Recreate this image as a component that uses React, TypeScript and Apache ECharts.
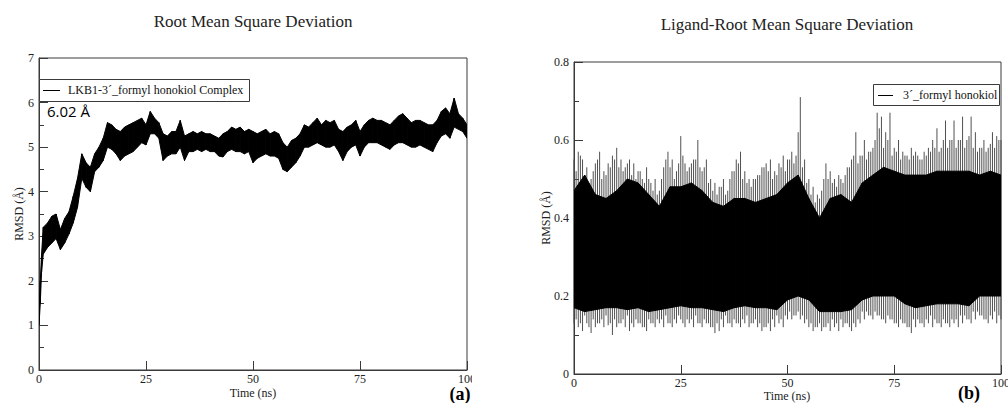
import React, { useEffect, useRef } from "react";
import * as echarts from "echarts";

// ---------- Data ----------
// Panel (a): protein RMSD band (upper / lower edge of the noisy trace), Å
const leftTime = [0, 0.3, 0.6,
  1, 2, 3, 4, 5, 6, 7, 8, 9, 10,
  11, 12, 13, 14, 15, 16, 17, 18, 19, 20,
  21, 22, 23, 24, 25, 26, 27, 28, 29, 30,
  31, 32, 33, 34, 35, 36, 37, 38, 39, 40,
  41, 42, 43, 44, 45, 46, 47, 48, 49, 50,
  51, 52, 53, 54, 55, 56, 57, 58, 59, 60,
  61, 62, 63, 64, 65, 66, 67, 68, 69, 70,
  71, 72, 73, 74, 75, 76, 77, 78, 79, 80,
  81, 82, 83, 84, 85, 86, 87, 88, 89, 90,
  91, 92, 93, 94, 95, 96, 97, 98, 99, 100];
const leftHigh = [1.25, 2.0, 2.6,
  3.2, 3.3, 3.45, 3.5, 3.15, 3.4, 3.55, 3.9, 4.3, 4.85,
  4.65, 4.55, 4.85, 5.0, 5.2, 5.55, 5.5, 5.4, 5.35, 5.45,
  5.5, 5.55, 5.6, 5.65, 5.5, 5.8, 5.65, 5.55, 5.3, 5.25,
  5.35, 5.35, 5.6, 5.25, 5.3, 5.35, 5.3, 5.35, 5.3, 5.3,
  5.25, 5.2, 5.3, 5.35, 5.45, 5.4, 5.45, 5.35, 5.4, 5.35,
  5.3, 5.35, 5.4, 5.3, 5.35, 5.3, 5.1, 5.0, 5.15, 5.2,
  5.3, 5.5, 5.45, 5.55, 5.65, 5.5, 5.6, 5.55, 5.6, 5.4,
  5.35, 5.45, 5.5, 5.6, 5.35, 5.5, 5.6, 5.65, 5.6, 5.6,
  5.55, 5.5, 5.6, 5.7, 5.75, 5.65, 5.55, 5.6, 5.6, 5.55,
  5.5, 5.5, 5.6, 5.8, 5.88, 5.75, 6.1, 5.75, 5.65, 5.5];
const leftLow = [1.0, 1.5, 2.2,
  2.6, 2.75, 2.85, 2.95, 2.7, 2.85, 3.05, 3.3, 3.65, 4.3,
  4.1, 4.0, 4.45, 4.55, 4.7, 5.0, 4.95, 4.85, 4.7, 4.8,
  4.85, 4.9, 5.0, 5.1, 5.05, 5.3, 5.3, 5.2, 4.7, 4.8,
  4.85, 4.85, 5.0, 4.7, 4.9, 4.9, 4.95, 4.9, 4.95, 4.9,
  4.9, 4.8, 4.78, 4.9, 4.95, 4.9, 4.9, 4.85, 4.9, 4.65,
  4.75, 4.8, 4.85, 4.8, 4.8, 4.75, 4.5, 4.45, 4.55, 4.65,
  4.8, 5.0, 5.0, 5.05, 5.1, 5.05, 5.0, 5.0, 5.05, 4.9,
  4.7, 4.9, 5.0, 5.05, 4.8, 5.0, 5.1, 5.1, 5.1, 5.05,
  5.0, 4.95, 5.05, 5.1, 5.1, 5.05, 5.0, 5.0, 5.05, 5.0,
  4.95, 4.9, 5.1, 5.25, 5.3, 5.2, 5.45, 5.4, 5.35, 5.2];

// Panel (b): ligand RMSD, dense core band (every 2.5 ns), Å
const coreTime = [0, 2.5, 5, 7.5, 10, 12.5, 15, 17.5, 20, 22.5,
  25, 27.5, 30, 32.5, 35, 37.5, 40, 42.5, 45, 47.5,
  50, 52.5, 55, 57.5, 60, 62.5, 65, 67.5, 70, 72.5,
  75, 77.5, 80, 82.5, 85, 87.5, 90, 92.5, 95, 97.5, 100];
const coreHigh = [0.47, 0.51, 0.46, 0.45, 0.47, 0.5, 0.49, 0.46, 0.43, 0.48,
  0.48, 0.49, 0.47, 0.44, 0.43, 0.45, 0.45, 0.44, 0.45, 0.46,
  0.49, 0.51, 0.45, 0.4, 0.45, 0.46, 0.44, 0.49, 0.51, 0.53,
  0.52, 0.51, 0.51, 0.51, 0.52, 0.52, 0.52, 0.52, 0.51, 0.52, 0.51];
const coreLow = [0.17, 0.16, 0.165, 0.17, 0.17, 0.165, 0.17, 0.16, 0.165, 0.17,
  0.175, 0.17, 0.17, 0.165, 0.16, 0.17, 0.175, 0.17, 0.17, 0.165,
  0.19, 0.2, 0.19, 0.16, 0.16, 0.16, 0.165, 0.19, 0.2, 0.2,
  0.2, 0.18, 0.17, 0.175, 0.18, 0.18, 0.18, 0.175, 0.2, 0.2, 0.2];

// Panel (b): spike extremes at whole ns
const spikeTime = [0, 1, 2, 3, 4, 5, 6, 7, 8, 9, 10,
  11, 12, 13, 14, 15, 16, 17, 18, 19, 20,
  21, 22, 23, 24, 25, 26, 27, 28, 29, 30,
  31, 32, 33, 34, 35, 36, 37, 38, 39, 40,
  41, 42, 43, 44, 45, 46, 47, 48, 49, 50,
  51, 52, 53, 54, 55, 56, 57, 58, 59, 60,
  61, 62, 63, 64, 65, 66, 67, 68, 69, 70,
  71, 72, 73, 74, 75, 76, 77, 78, 79, 80,
  81, 82, 83, 84, 85, 86, 87, 88, 89, 90,
  91, 92, 93, 94, 95, 96, 97, 98, 99, 100];
const spikeMax = [0.55, 0.57, 0.55, 0.53, 0.5, 0.54, 0.57, 0.52, 0.54, 0.56, 0.58,
  0.55, 0.53, 0.55, 0.54, 0.52, 0.5, 0.53, 0.49, 0.5, 0.47,
  0.53, 0.57, 0.55, 0.52, 0.61, 0.54, 0.53, 0.55, 0.6, 0.52,
  0.55, 0.5, 0.49, 0.48, 0.5, 0.47, 0.52, 0.55, 0.57, 0.52,
  0.5, 0.5, 0.51, 0.53, 0.54, 0.55, 0.52, 0.54, 0.56, 0.55,
  0.57, 0.56, 0.71, 0.55, 0.5, 0.48, 0.46, 0.47, 0.54, 0.52,
  0.5, 0.51, 0.49, 0.53, 0.55, 0.62, 0.56, 0.6, 0.57, 0.58,
  0.67, 0.66, 0.62, 0.67, 0.58, 0.6, 0.57, 0.56, 0.58, 0.57,
  0.55, 0.57, 0.58, 0.6, 0.63, 0.58, 0.65, 0.6, 0.65, 0.6,
  0.66, 0.6, 0.66, 0.62, 0.58, 0.6, 0.58, 0.62, 0.61, 0.6];
const spikeMin = [0.13, 0.12, 0.11, 0.13, 0.105, 0.12, 0.13, 0.12, 0.125, 0.1, 0.12,
  0.13, 0.12, 0.11, 0.12, 0.13, 0.12, 0.11, 0.13, 0.12, 0.13,
  0.12, 0.13, 0.12, 0.13, 0.14, 0.12, 0.13, 0.12, 0.13, 0.12,
  0.13, 0.12, 0.105, 0.11, 0.12, 0.13, 0.12, 0.13, 0.12, 0.13,
  0.12, 0.13, 0.12, 0.11, 0.12, 0.11, 0.12, 0.13, 0.12, 0.14,
  0.14, 0.15, 0.14, 0.13, 0.12, 0.11, 0.12, 0.11, 0.12, 0.11,
  0.12, 0.11, 0.12, 0.13, 0.11, 0.12, 0.13, 0.14, 0.15, 0.14,
  0.15, 0.14, 0.13, 0.14, 0.13, 0.12, 0.13, 0.12, 0.105, 0.12,
  0.13, 0.12, 0.13, 0.12, 0.13, 0.12, 0.13, 0.12, 0.13, 0.12,
  0.13, 0.14, 0.13, 0.14, 0.15, 0.14, 0.13, 0.14, 0.13, 0.14];

// Panel (b): spike extremes at half ns
const spikeTimeHalf = [0.5, 1.5, 2.5, 3.5, 4.5, 5.5, 6.5, 7.5, 8.5, 9.5,
  10.5, 11.5, 12.5, 13.5, 14.5, 15.5, 16.5, 17.5, 18.5, 19.5,
  20.5, 21.5, 22.5, 23.5, 24.5, 25.5, 26.5, 27.5, 28.5, 29.5,
  30.5, 31.5, 32.5, 33.5, 34.5, 35.5, 36.5, 37.5, 38.5, 39.5,
  40.5, 41.5, 42.5, 43.5, 44.5, 45.5, 46.5, 47.5, 48.5, 49.5,
  50.5, 51.5, 52.5, 53.5, 54.5, 55.5, 56.5, 57.5, 58.5, 59.5,
  60.5, 61.5, 62.5, 63.5, 64.5, 65.5, 66.5, 67.5, 68.5, 69.5,
  70.5, 71.5, 72.5, 73.5, 74.5, 75.5, 76.5, 77.5, 78.5, 79.5,
  80.5, 81.5, 82.5, 83.5, 84.5, 85.5, 86.5, 87.5, 88.5, 89.5,
  90.5, 91.5, 92.5, 93.5, 94.5, 95.5, 96.5, 97.5, 98.5, 99.5];
const spikeMaxHalf = [0.52, 0.56, 0.5, 0.48, 0.52, 0.55, 0.5, 0.51, 0.53, 0.55,
  0.53, 0.52, 0.54, 0.51, 0.5, 0.52, 0.49, 0.5, 0.47, 0.46,
  0.5, 0.55, 0.53, 0.5, 0.54, 0.56, 0.52, 0.54, 0.55, 0.53,
  0.53, 0.49, 0.47, 0.46, 0.48, 0.46, 0.5, 0.52, 0.54, 0.5,
  0.49, 0.48, 0.5, 0.51, 0.53, 0.52, 0.5, 0.51, 0.53, 0.52,
  0.55, 0.54, 0.62, 0.53, 0.49, 0.46, 0.44, 0.45, 0.5, 0.5,
  0.49, 0.48, 0.5, 0.51, 0.53, 0.56, 0.54, 0.56, 0.55, 0.57,
  0.6, 0.63, 0.58, 0.6, 0.56, 0.57, 0.55, 0.56, 0.55, 0.56,
  0.56, 0.55, 0.56, 0.57, 0.58, 0.57, 0.6, 0.58, 0.6, 0.58,
  0.6, 0.58, 0.61, 0.58, 0.57, 0.58, 0.57, 0.59, 0.58, 0.6];
const spikeMinHalf = [0.14, 0.13, 0.15, 0.12, 0.14, 0.13, 0.14, 0.15, 0.13, 0.14,
  0.13, 0.14, 0.15, 0.13, 0.14, 0.13, 0.12, 0.14, 0.13, 0.14,
  0.14, 0.15, 0.13, 0.14, 0.15, 0.13, 0.14, 0.14, 0.15, 0.13,
  0.14, 0.13, 0.12, 0.13, 0.14, 0.15, 0.13, 0.14, 0.13, 0.14,
  0.15, 0.13, 0.14, 0.13, 0.12, 0.13, 0.14, 0.15, 0.14, 0.15,
  0.16, 0.15, 0.16, 0.15, 0.14, 0.13, 0.12, 0.13, 0.12, 0.13,
  0.14, 0.13, 0.14, 0.13, 0.12, 0.13, 0.14, 0.16, 0.16, 0.15,
  0.16, 0.15, 0.14, 0.15, 0.14, 0.13, 0.14, 0.13, 0.12, 0.14,
  0.14, 0.13, 0.14, 0.15, 0.14, 0.13, 0.14, 0.13, 0.14, 0.14,
  0.15, 0.15, 0.14, 0.16, 0.16, 0.15, 0.14, 0.15, 0.16, 0.15];

const xTicks = [0, 25, 50, 75, 100];

// ---------- Styling helpers ----------
const SERIF = "'Liberation Serif', 'Times New Roman', serif";
const AXIS = "#3a3a3a";

function axisX() {
  return {
    type: "value" as const,
    min: xTicks[0],
    max: xTicks[xTicks.length - 1],
    interval: xTicks[1] - xTicks[0],
    axisLine: { show: true, lineStyle: { color: AXIS, width: 1 } },
    axisTick: { show: true, inside: true, length: 9, lineStyle: { color: AXIS } },
    minorTick: { show: false },
    splitLine: { show: false },
    axisLabel: { color: "#222", fontFamily: SERIF, fontSize: 12, margin: 3, showMinLabel: true, showMaxLabel: true },
  };
}

function axisY(min: number, max: number, interval: number) {
  return {
    type: "value" as const,
    min,
    max,
    interval,
    axisLine: { show: true, lineStyle: { color: AXIS, width: 1 } },
    axisTick: { show: true, inside: true, length: 9, lineStyle: { color: AXIS } },
    minorTick: { show: true, splitNumber: 2, length: 5, lineStyle: { color: AXIS } },
    splitLine: { show: false },
    axisLabel: { color: "#222", fontFamily: SERIF, fontSize: 12, margin: 5 },
  };
}

function txt(x: number, y: number, text: string, opts: any = {}) {
  return {
    type: "text",
    x,
    y,
    z: 100,
    rotation: opts.rotation || 0,
    style: {
      text,
      fill: opts.fill || "#222",
      fontFamily: opts.fontFamily || SERIF,
      fontSize: opts.fontSize || 12,
      fontWeight: opts.fontWeight || "normal",
      align: opts.align || "center",
      verticalAlign: "middle",
    },
  };
}

// Band between a low and a high edge, drawn as one quad per interval
function bandSeries(name: string, times: number[], lo: number[], hi: number[], z: number) {
  const data = times.slice(0, -1).map((t, i) => [t, lo[i], hi[i], times[i + 1], lo[i + 1], hi[i + 1]]);
  return {
    type: "custom",
    name,
    z,
    silent: true,
    clip: true,
    encode: { x: [0, 3], y: [1, 2, 4, 5] },
    data,
    renderItem: (_p: any, api: any) => {
      const p1 = api.coord([api.value(0), api.value(1)]);
      const p2 = api.coord([api.value(3), api.value(4)]);
      const p3 = api.coord([api.value(3), api.value(5)]);
      const p4 = api.coord([api.value(0), api.value(2)]);
      return {
        type: "polygon",
        shape: { points: [p1, p2, p3, p4] },
        style: { fill: "#000", stroke: "#000", lineWidth: 1 },
      };
    },
  };
}

function spikeSeries(times: number[], values: number[], name: string) {
  return {
    type: "custom",
    name,
    z: 1,
    silent: true,
    data: times.map((t, i) => [t, values[i]]),
    renderItem: (_p: any, api: any) => {
      const t = api.value(0);
      const v = api.value(1);
      const a = api.coord([t, 0.3]);
      const b = api.coord([t, v]);
      return {
        type: "line",
        shape: { x1: a[0], y1: a[1], x2: b[0], y2: b[1] },
        style: { stroke: "#505050", lineWidth: 1 },
      };
    },
  };
}

const leftOption = {
  animation: false,
  grid: { left: 39, top: 58, width: 428, height: 312, show: true, borderColor: AXIS, borderWidth: 1, backgroundColor: "transparent" },
  xAxis: axisX(),
  yAxis: axisY(0, 7, 1),
  series: [bandSeries("LKB1-3´_formyl honokiol Complex", leftTime, leftLow, leftHigh, 2)],
  graphic: [
    txt(253, 21, "Root Mean Square Deviation", { fontSize: 17 }),
    txt(19, 214, "RMSD (Å)", { rotation: Math.PI / 2 }),
    txt(253, 393, "Time (ns)"),
    txt(460, 394, "(a)", { fontSize: 18, fontWeight: "bold", fill: "#000" }),
    txt(47, 111, "6.02 Å", { align: "left", fontFamily: "'Open Sans', 'Noto Sans', sans-serif", fontSize: 15, fill: "#000" }),
    {
      type: "rect",
      z: 99,
      shape: { x: 39.5, y: 79.5, width: 210, height: 22 },
      style: { fill: "#fff", stroke: AXIS, lineWidth: 1 },
    },
    {
      type: "line",
      z: 100,
      shape: { x1: 43, y1: 90.5, x2: 60, y2: 90.5 },
      style: { stroke: "#000", lineWidth: 1 },
    },
    txt(68, 90, "LKB1-3´_formyl honokiol Complex", { align: "left", fill: "#111" }),
  ],
};

const rightOption = {
  animation: false,
  grid: { left: 94, top: 62, width: 427, height: 312, show: true, borderColor: AXIS, borderWidth: 1, backgroundColor: "transparent" },
  xAxis: axisX(),
  yAxis: axisY(0, 0.8, 0.2),
  series: [
    spikeSeries(spikeTime, spikeMax, "max"),
    spikeSeries(spikeTime, spikeMin, "min"),
    spikeSeries(spikeTimeHalf, spikeMaxHalf, "maxHalf"),
    spikeSeries(spikeTimeHalf, spikeMinHalf, "minHalf"),
    bandSeries("3´_formyl honokiol", coreTime, coreLow, coreHigh, 3),
  ],
  graphic: [
    txt(307, 24, "Ligand-Root Mean Square Deviation", { fontSize: 17 }),
    txt(66, 218, "RMSD (Å)", { rotation: Math.PI / 2 }),
    txt(307, 396, "Time (ns)"),
    txt(489, 393, "(b)", { fontSize: 18, fontWeight: "bold", fill: "#000" }),
    {
      type: "rect",
      z: 99,
      shape: { x: 393.5, y: 84.5, width: 126, height: 21 },
      style: { fill: "#fff", stroke: AXIS, lineWidth: 1 },
    },
    {
      type: "line",
      z: 100,
      shape: { x1: 398, y1: 95.5, x2: 413, y2: 95.5 },
      style: { stroke: "#000", lineWidth: 1 },
    },
    txt(423, 95, "3´_formyl honokiol", { align: "left", fill: "#111" }),
  ],
};

// The chart canvas is wider than its visible window, so the last x label is cut
// at the window edge exactly like in the cropped reference figure.
function Chart({ option, left, clipWidth, width }: { option: any; left: number; clipWidth: number; width: number }) {
  const ref = useRef<HTMLDivElement>(null);
  useEffect(() => {
    if (!ref.current) return;
    const chart = echarts.init(ref.current, undefined, { renderer: "svg" });
    chart.setOption(option);
    return () => chart.dispose();
  }, [option]);
  return (
    <div style={{ position: "absolute", left, top: 0, width: clipWidth, height: 403, overflow: "hidden" }}>
      <div ref={ref} style={{ position: "absolute", left: 0, top: 0, width, height: 403 }} />
    </div>
  );
}

export default function App() {
  useEffect(() => {
    document.body.style.margin = "0";
    document.body.style.background = "#fff";
  }, []);
  return (
    <div style={{ position: "relative", width: 1008, height: 403, background: "#fff", overflow: "hidden" }}>
      <Chart option={leftOption} left={0} clipWidth={472} width={520} />
      <Chart option={rightOption} left={480} clipWidth={528} width={580} />
    </div>
  );
}
